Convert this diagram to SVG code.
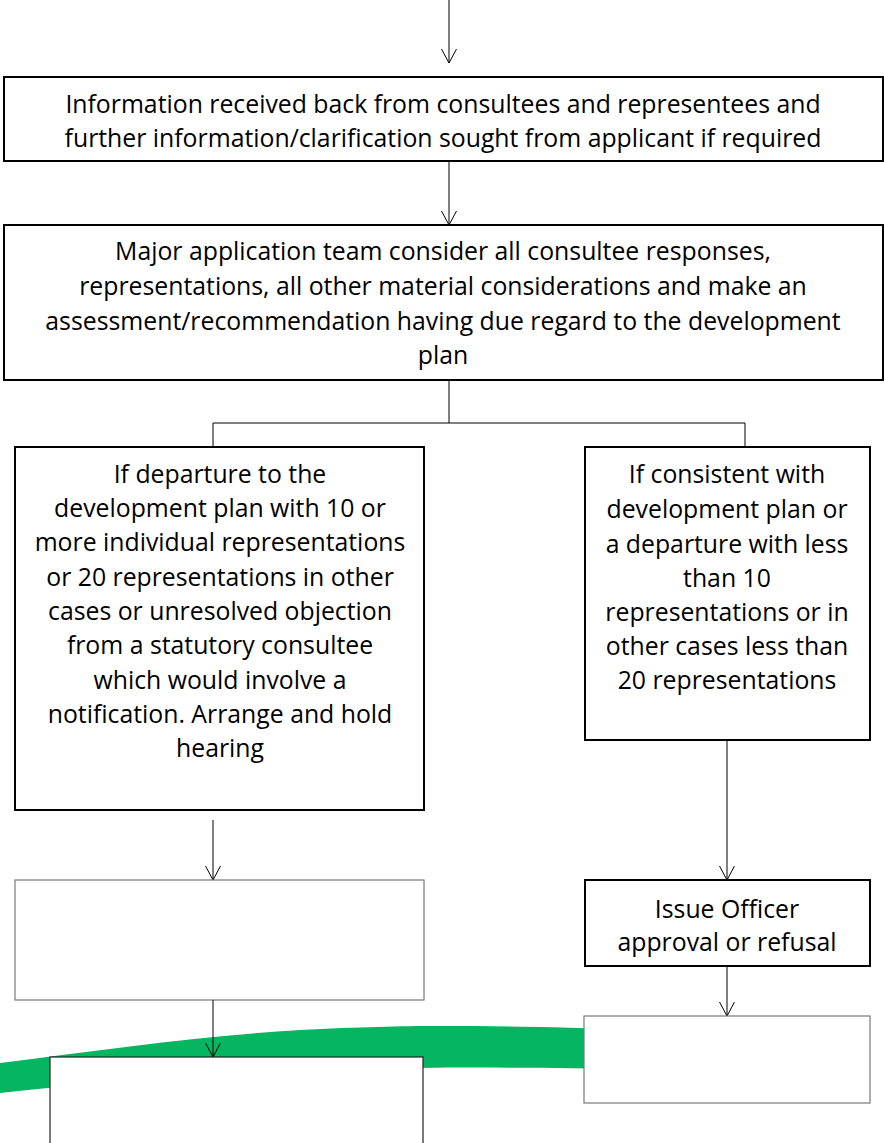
<svg xmlns="http://www.w3.org/2000/svg" width="884" height="1143" viewBox="0 0 884 1143">
  <defs>
    <!-- open V arrowhead, tip at the line end -->
    <marker id="arrow" viewBox="0 0 16 16" refX="15" refY="8" markerWidth="16" markerHeight="16" markerUnits="userSpaceOnUse" orient="auto">
      <path d="M1,0.5 L15,8 L1,15.5" fill="none" stroke="#000" stroke-width="1"/>
    </marker>
  </defs>
  <style>
    .box { fill: #fff; stroke: #000; stroke-width: 2; }
    .thin { fill: #fff; stroke: #7a7a7a; stroke-width: 1.2; }
    .thinb { fill: #fff; stroke: #222; stroke-width: 1.2; }
    .lbl { font-family: "Open Sans", "Liberation Sans", Arial, sans-serif; font-size: 24.8px; fill: #000; text-anchor: middle; dominant-baseline: central; }
    .conn { fill: none; stroke: #000; stroke-width: 1; }
  </style>
  <rect width="884" height="1143" fill="#fff"/>

  <!-- green swoosh running behind the lower boxes -->
  <path d="M0,1063 C100,1050 200,1036 300,1030 C360,1027 400,1026 440,1026 C500,1026 560,1027 640,1030 L640,1069 C560,1068 480,1067 420,1068 C300,1069 150,1076 0,1093 Z" fill="#06b560"/>

  <g id="connectors">
    <line class="conn" x1="449" y1="0" x2="449" y2="63" marker-end="url(#arrow)"/>
    <line class="conn" x1="449" y1="161" x2="449" y2="225" marker-end="url(#arrow)"/>
    <polyline class="conn" points="449,380 449,423"/>
    <polyline class="conn" points="213,447 213,423 745,423 745,447"/>
    <line class="conn" x1="213" y1="820" x2="213" y2="880" marker-end="url(#arrow)"/>
    <line class="conn" x1="727" y1="740" x2="727" y2="880" marker-end="url(#arrow)"/>
    <line class="conn" x1="727" y1="966" x2="727" y2="1016" marker-end="url(#arrow)"/>
  </g>

  <g id="info-received">
    <rect class="box" x="4" y="77" width="879" height="84"/>
    <text class="lbl" x="443" y="103">Information received back from consultees and representees and</text>
    <text class="lbl" x="443" y="137">further information/clarification sought from applicant if required</text>
  </g>

  <g id="team-assessment">
    <rect class="box" x="4" y="225" width="879" height="155"/>
    <text class="lbl" x="443" y="250">Major application team consider all consultee responses,</text>
    <text class="lbl" x="443" y="285">representations, all other material considerations and make an</text>
    <text class="lbl" x="443" y="320">assessment/recommendation having due regard to the development</text>
    <text class="lbl" x="443" y="354">plan</text>
  </g>

  <g id="departure-hearing">
    <rect class="box" x="15" y="447" width="409" height="363"/>
    <text class="lbl" x="220" y="473">If departure to the</text>
    <text class="lbl" x="220" y="507">development plan with 10 or</text>
    <text class="lbl" x="220" y="541">more individual representations</text>
    <text class="lbl" x="220" y="576">or 20 representations in other</text>
    <text class="lbl" x="220" y="610">cases or unresolved objection</text>
    <text class="lbl" x="220" y="644">from a statutory consultee</text>
    <text class="lbl" x="220" y="679">which would involve a</text>
    <text class="lbl" x="220" y="713">notification. Arrange and hold</text>
    <text class="lbl" x="220" y="747">hearing</text>
  </g>

  <g id="consistent">
    <rect class="box" x="585" y="447" width="285" height="293"/>
    <text class="lbl" x="727" y="473">If consistent with</text>
    <text class="lbl" x="727" y="508">development plan or</text>
    <text class="lbl" x="727" y="543">a departure with less</text>
    <text class="lbl" x="727" y="577">than 10</text>
    <text class="lbl" x="727" y="611">representations or in</text>
    <text class="lbl" x="727" y="645">other cases less than</text>
    <text class="lbl" x="727" y="679">20 representations</text>
  </g>

  <g id="left-step">
    <rect class="thin" x="15" y="880" width="409" height="120"/>
  </g>
  <line class="conn" x1="213" y1="1000" x2="213" y2="1057" marker-end="url(#arrow)"/>

  <g id="issue-officer">
    <rect class="box" x="585" y="880" width="285" height="86"/>
    <text class="lbl" x="727" y="908">Issue Officer</text>
    <text class="lbl" x="727" y="941">approval or refusal</text>
  </g>

  <g id="right-step">
    <rect class="thin" x="584" y="1016" width="286" height="87"/>
  </g>

  <g id="left-lower">
    <rect class="thinb" x="50" y="1057" width="373" height="100"/>
  </g>
</svg>
